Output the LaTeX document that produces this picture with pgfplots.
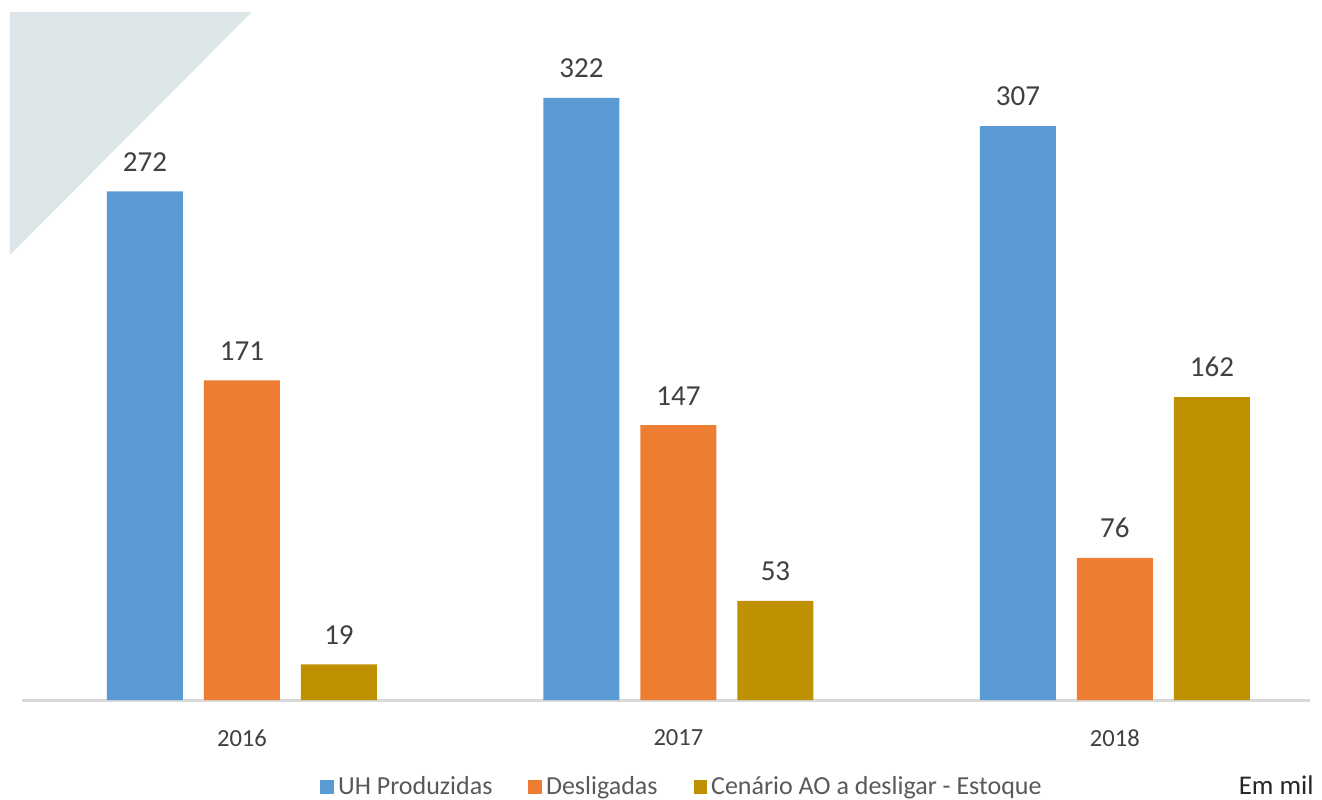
\documentclass[border=0pt]{standalone}
\usepackage{fontspec}
\setmainfont{Carlito}
\usepackage{pgfplots}
\pgfplotsset{compat=1.18}
\usetikzlibrary{calc}
\definecolor{uhblue}{RGB}{91,155,213}
\definecolor{deslorange}{RGB}{237,125,49}
\definecolor{estgold}{RGB}{191,144,0}
\definecolor{trigray}{RGB}{220,229,232}
\definecolor{txtgray}{RGB}{64,64,64}
\definecolor{leggray}{RGB}{89,89,89}
\definecolor{axgray}{RGB}{217,217,217}
\begin{document}
\begin{tikzpicture}
\begin{axis}[
  scale only axis,
  width=650pt, height=344pt,
  xmin=-0.5315, xmax=2.447,
  ymin=0, ymax=368,
  ybar=10.5pt, bar width=38pt,
  axis line style={draw=none},
  tick style={draw=none},
  ytick=\empty,
  xtick={0,1,2},
  xticklabels={2016,2017,2018},
  xticklabel style={font=\fontsize{12.3}{14}\selectfont, text=txtgray, yshift=-7pt},
  /pgf/number format/assume math mode=true,
  nodes near coords,
  every node near coord/.append style={font=\fontsize{14.5}{16}\selectfont, text=txtgray, yshift=6.5pt},
  clip=false,
  legend columns=3,
  legend style={draw=none, fill=none, at={(rel axis cs:0.5177,-0.1265)}, anchor=center,
    font=\fontsize{13}{15}\selectfont, text=leggray,
    /tikz/every even column/.append style={column sep=16pt}},
  legend image code/.code={\fill[#1] (0pt,-3.4pt) rectangle (6.8pt,3.4pt);},
]
  \fill[trigray] (rel axis cs:0,1) -- (rel axis cs:0.186,1) -- (rel axis cs:0,0.647) -- cycle;
  \draw[axgray, line width=1.5pt] (axis cs:-0.504,0) -- (axis cs:2.447,0);
  \addplot[fill=uhblue, draw=none] coordinates {(0,272) (1,322) (2,307)};
  \addplot[fill=deslorange, draw=none] coordinates {(0,171) (1,147) (2,76)};
  \addplot[fill=estgold, draw=none] coordinates {(0,19) (1,53) (2,162)};
  \legend{UH Produzidas, Desligadas, Cenário AO a desligar - Estoque}
  \node[font=\fontsize{13.5}{15}\selectfont, text=black!85] at (rel axis cs:0.974,-0.124) {Em mil};
  \coordinate (ll) at (rel axis cs:0,0);
\end{axis}
\pgfresetboundingbox
\path ($(ll)+(-5pt,-49.5pt)$) rectangle ($(ll)+(656pt,350pt)$);
\end{tikzpicture}
\end{document}
